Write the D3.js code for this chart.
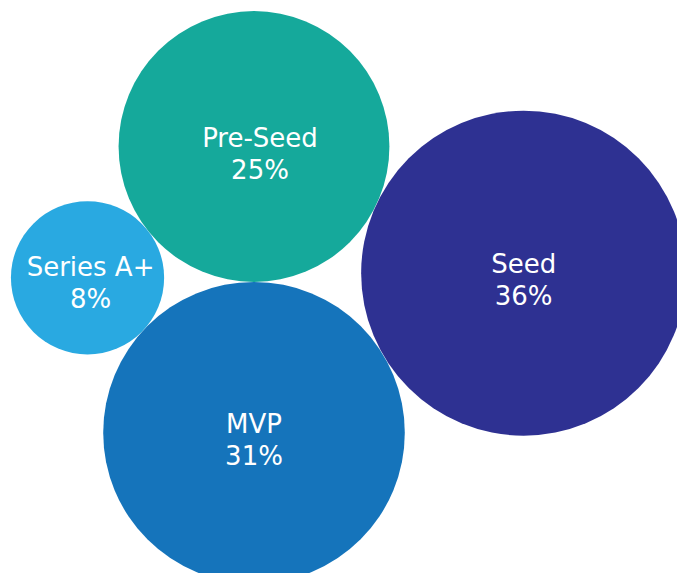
<!DOCTYPE html>
<html>
<head>
<meta charset="utf-8">
<script src="https://cdn.jsdelivr.net/npm/d3@7"></script>
<style>
  html, body { margin: 0; padding: 0; background: #ffffff; }
  svg { display: block; }
</style>
</head>
<body>
<svg id="chart" width="677" height="573"></svg>
<script>
// ---- data ----
const categories = ["Pre-Seed", "Seed", "Series A+", "MVP"];
const shares = [25, 36, 8, 31];
const labels = ["25%", "36%", "8%", "31%"];
const colors = ["#15A99B", "#2E3192", "#29A9E1", "#1574BB"];

// ---- layout ----
const W = 677, H = 573;
const svg = d3.select("#chart");
const rScale = d3.scaleSqrt().domain([0, 36]).range([0, 162.5]);

const nodes = categories.map((c, i) => ({
  name: c, value: shares[i], label: labels[i], color: colors[i], r: rScale(shares[i])
}));
const byName = Object.fromEntries(nodes.map(n => [n.name, n]));

// pack circles tangent to each other
const packOrder = ["Pre-Seed", "MVP", "Seed", "Series A+"].map(n => byName[n]);
d3.packSiblings(packOrder);

// orient: Pre-Seed above MVP (vertical), Seed to the right
const P = byName["Pre-Seed"], M = byName["MVP"], S = byName["Seed"];
const rot = Math.PI / 2 - Math.atan2(M.y - P.y, M.x - P.x);
const px = P.x, py = P.y;
nodes.forEach(n => {
  const dx = n.x - px, dy = n.y - py;
  n.x = dx * Math.cos(rot) - dy * Math.sin(rot);
  n.y = dx * Math.sin(rot) + dy * Math.cos(rot);
});
if (S.x < P.x) nodes.forEach(n => { n.x = -n.x; });
const anchor = [254, 146.5];
nodes.forEach(n => { n.x += anchor[0]; n.y += anchor[1]; });

// small label nudges seen in the original
const labelNudge = { "Pre-Seed": [6, 0], "Series A+": [3, -2] };

const g = svg.selectAll("g.bubble").data(nodes).join("g")
  .attr("class", "bubble")
  .attr("transform", d => `translate(${d.x},${d.y})`);

g.append("circle")
  .attr("r", d => d.r)
  .attr("fill", d => d.color);

const text = g.append("text")
  .attr("text-anchor", "middle")
  .attr("fill", "#ffffff")
  .attr("transform", d => {
    const o = labelNudge[d.name] || [0, 0];
    return `translate(${o[0]},${o[1]})`;
  })
  .style("font-family", "'DejaVu Sans', sans-serif")
  .style("font-size", "26px");
text.append("tspan").attr("x", 0).attr("y", 0).text(d => d.name);
text.append("tspan").attr("x", 0).attr("y", 32).text(d => d.label);
</script>
</body>
</html>
